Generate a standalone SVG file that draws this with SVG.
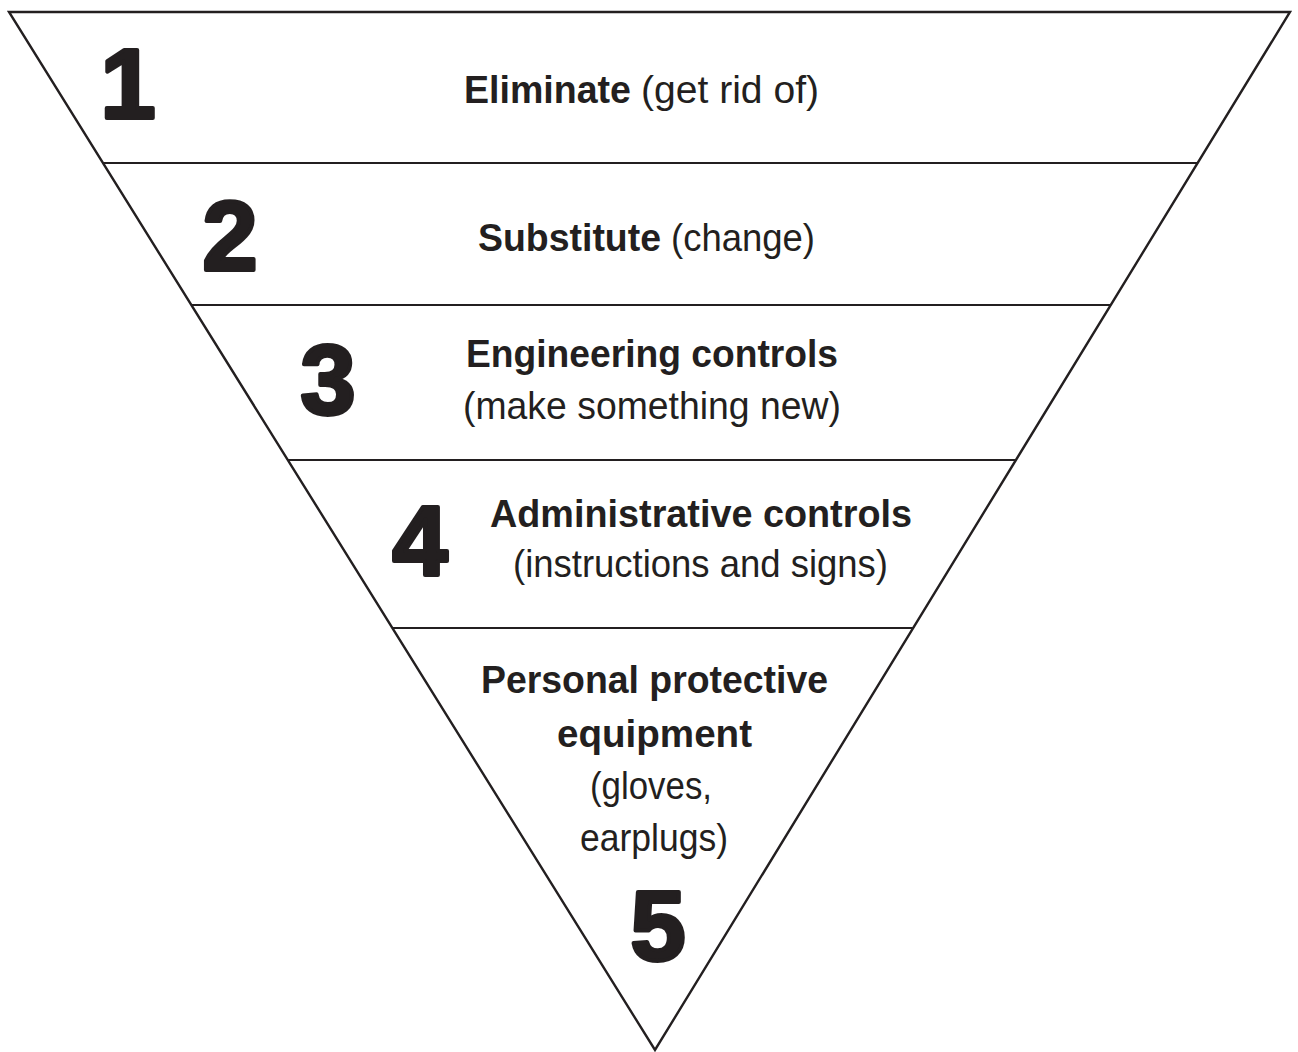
<svg xmlns="http://www.w3.org/2000/svg" width="1298" height="1052" viewBox="0 0 1298 1052">
<style>
.edge{fill:none;stroke:#231f20;stroke-width:2.4;stroke-linejoin:miter}
.div{stroke:#231f20;stroke-width:1.8}
.num{font-family:"Liberation Sans",Arial,sans-serif;font-weight:bold;font-size:99px;fill:#231f20;stroke:#231f20;stroke-width:4;stroke-linejoin:round;text-anchor:middle}
.b{font-family:"Liberation Sans",Arial,sans-serif;font-weight:bold;font-size:39px;fill:#231f20}
.r{font-family:"Liberation Sans",Arial,sans-serif;font-size:39px;fill:#231f20}
</style>
<rect width="1298" height="1052" fill="#ffffff"/>
<g id="connectors">
<polygon class="edge" points="9,12 1290,12 655,1050"/>
<line class="div" x1="103" y1="163" x2="1197.6" y2="163"/>
<line class="div" x1="191.4" y1="305" x2="1110.8" y2="305"/>
<line class="div" x1="287.8" y1="460" x2="1015.9" y2="460"/>
<line class="div" x1="392.4" y1="628" x2="913.2" y2="628"/>
</g>
<g id="level1">
<text class="num" x="128" y="118">1</text>
<text class="b" x="464" y="103" textLength="167" lengthAdjust="spacingAndGlyphs">Eliminate</text>
<text class="r" x="641" y="103" textLength="178" lengthAdjust="spacingAndGlyphs">(get rid of)</text>
</g>
<g id="level2">
<text class="num" x="230" y="270">2</text>
<text class="b" x="478" y="251" textLength="183" lengthAdjust="spacingAndGlyphs">Substitute</text>
<text class="r" x="671" y="251" textLength="144" lengthAdjust="spacingAndGlyphs">(change)</text>
</g>
<g id="level3">
<text class="num" x="328" y="414">3</text>
<text class="b" x="466" y="367" textLength="372" lengthAdjust="spacingAndGlyphs">Engineering controls</text>
<text class="r" x="463" y="419" textLength="378" lengthAdjust="spacingAndGlyphs">(make something new)</text>
</g>
<g id="level4">
<text class="num" x="420" y="575">4</text>
<text class="b" x="490" y="527" textLength="422" lengthAdjust="spacingAndGlyphs">Administrative controls</text>
<text class="r" x="513" y="577" textLength="375" lengthAdjust="spacingAndGlyphs">(instructions and signs)</text>
</g>
<g id="level5">
<text class="b" x="481" y="693" textLength="347" lengthAdjust="spacingAndGlyphs">Personal protective</text>
<text class="b" x="557" y="747" textLength="195" lengthAdjust="spacingAndGlyphs">equipment</text>
<text class="r" x="590" y="799" textLength="122" lengthAdjust="spacingAndGlyphs">(gloves,</text>
<text class="r" x="580" y="851" textLength="148" lengthAdjust="spacingAndGlyphs">earplugs)</text>
<text class="num" x="658" y="960">5</text>
</g>
</svg>
